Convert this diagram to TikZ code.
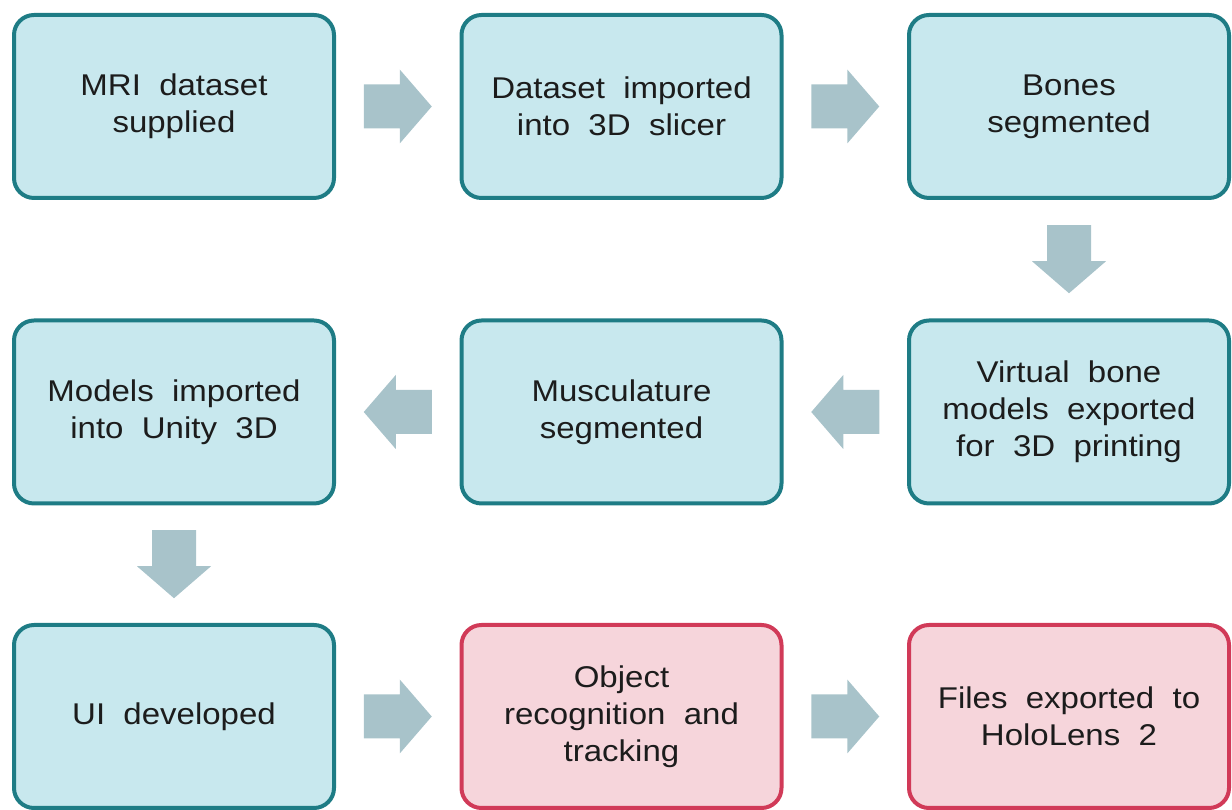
\documentclass[tikz,border=0pt]{standalone}
\usepackage{fontspec}
\setmainfont{Liberation Sans}[FakeStretch=1.1, WordSpace=2]
\usetikzlibrary{calc}
\definecolor{boxfill}{HTML}{C8E8EE}
\definecolor{boxline}{HTML}{1E7C85}
\definecolor{redfill}{HTML}{F6D5DB}
\definecolor{redline}{HTML}{D13A58}
\definecolor{arrfill}{HTML}{A8C3CA}
\definecolor{textcol}{HTML}{1C1C1C}

\begin{document}
\begin{tikzpicture}[x = 1pt, y = 1pt,
	box/.style = {draw = boxline, fill = boxfill, line width = 4pt, rounded corners = 20pt,
		minimum width = 320pt, minimum height = 183pt, align = center, text = textcol,
		font = \fontsize{30}{37}\selectfont},
	redbox/.style = {box, draw = redline, fill = redfill},
	blockarr/.pic = {\fill[arrfill] (-34,-22) -- (2,-22) -- (2,-37) -- (34,0) -- (2,37) -- (2,22) -- (-34,22) -- cycle;}]
			\useasboundingbox (0,0) rectangle (1232,810);
			\node[box] (mri) at (174,703.5) {MRI dataset\\supplied};
			\node[box] (import) at (621.5,703.5) {Dataset imported\\into 3D slicer};
			\node[box] (bones) at (1069,703.5) {Bones\\segmented};
			\node[box] (export) at (1069,398) {Virtual bone\\models exported\\for 3D printing};
			\node[box] (muscle) at (621.5,398) {Musculature\\segmented};
			\node[box] (unity) at (174,398) {Models imported\\into Unity 3D};
			\node[box] (ui) at (174,93.5) {UI developed};
			\node[redbox] (track) at (621.5,93.5) {Object\\recognition and\\tracking};
			\node[redbox] (holo) at (1069,93.5) {Files exported to\\HoloLens 2};
			\pic at ($(mri.east)!.5!(import.west)$) {blockarr};
			\pic at ($(import.east)!.5!(bones.west)$) {blockarr};
			\pic[rotate = -90] at ($(bones.south)!.5!(export.north)$) {blockarr};
			\pic[rotate = 180] at ($(export.west)!.5!(muscle.east)$) {blockarr};
			\pic[rotate = 180] at ($(muscle.west)!.5!(unity.east)$) {blockarr};
			\pic[rotate = -90] at ($(unity.south)!.5!(ui.north)$) {blockarr};
			\pic at ($(ui.east)!.5!(track.west)$) {blockarr};
			\pic at ($(track.east)!.5!(holo.west)$) {blockarr};
\end{tikzpicture}
\end{document}
